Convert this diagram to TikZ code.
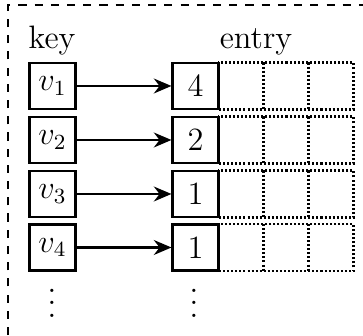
\documentclass[tikz,border=0pt]{standalone}
\usetikzlibrary{arrows.meta}
\begin{document}
\begin{tikzpicture}[x=0.37pt,y=-0.37pt,
  keybox/.style={draw,line width=1pt,minimum width=17.2pt,minimum height=17pt,inner sep=0pt,font=\large},
  cntbox/.style={draw,line width=1pt,minimum width=16.8pt,minimum height=17pt,inner sep=0pt,font=\large},
  cell/.style={minimum width=16.6pt,minimum height=17pt,inner sep=0pt},
  dots/.style={dash pattern=on 0.75pt off 0.75pt,line width=0.8pt},
  link/.style={line width=0.9pt,-{Stealth[length=6.5pt,width=5.5pt]}},
  frame/.style={dashed,line width=0.4pt},
  lbl/.style={anchor=base,font=\large},
  more/.style={scale=1.15}]
  \useasboundingbox (0,0) rectangle (363,336);
  \clip (0,0) rectangle (363,336);
  % outer dashed frame
  \draw[frame] (8,400) -- (8,5) -- (420,5);
  % column headings
  \node[lbl] (keyl) at (52,49) {key};
  \node[lbl] (entl) at (256,49) {entry};
  % rows: key box, count box, three empty dotted cells
  \foreach \i/\c/\y in {1/4/86,2/2/140,3/1/194,4/1/247.5}{
    \node[keybox] (k\i) at (52.5,\y) {$v_{\i}$};
    \node[cell] (a\i) at (240.5,\y) {};
    \node[cell] (b\i) at (285.5,\y) {};
    \node[cell] (c\i) at (330.5,\y) {};
    \draw[dots] (a\i.north west) rectangle (c\i.south east);
    \draw[dots] (a\i.north east) -- (a\i.south east);
    \draw[dots] (b\i.north east) -- (b\i.south east);
    \node[cntbox,fill=white] (e\i) at (195.5,\y) {\c};
    \draw[link] (k\i) -- (e\i);
  }
  % continuation dots
  \node[more] (kdots) at (52,294) {$\vdots$};
  \node[more] (edots) at (194,294) {$\vdots$};
\end{tikzpicture}
\end{document}
